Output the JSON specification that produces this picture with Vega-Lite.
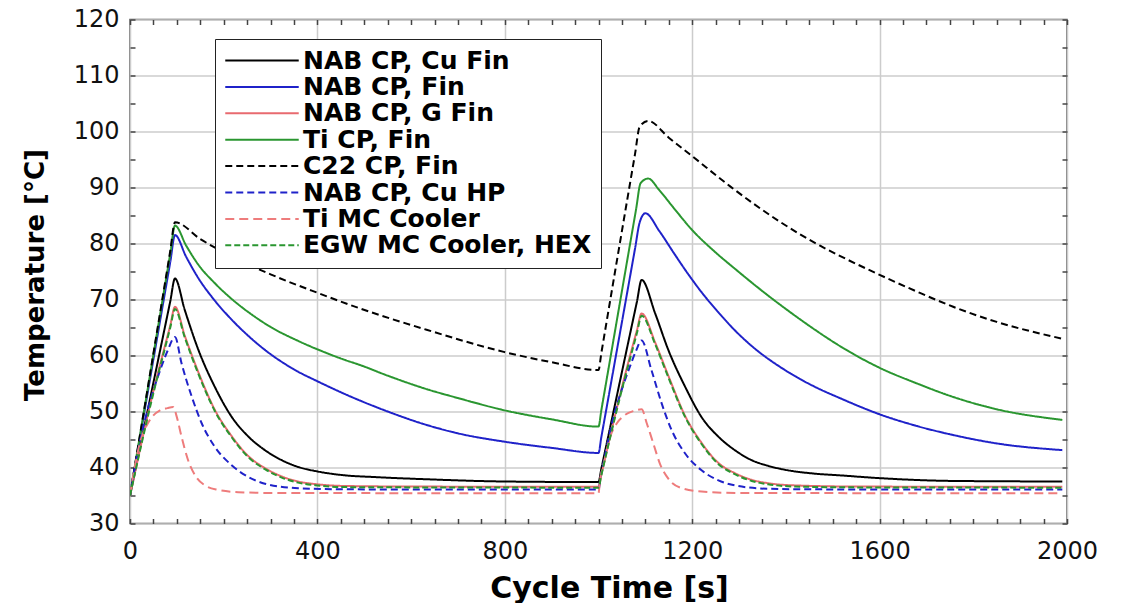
{
"$schema": "https://vega.github.io/schema/vega-lite/v6.json",
"width": 937, "height": 504,
"autosize": "none",
"padding": {"left": 130, "top": 19.5, "right": 56, "bottom": 79.5},
"background": "white",
"config": {"view": {"stroke": "#555555", "strokeWidth": 1.5}, "font": "DejaVu Sans"},
"data": {"values": [
{"s":"NAB CP, Cu Fin","t":0,"T":35},{"s":"NAB CP, Cu Fin","t":86,"T":69.7},{"s":"NAB CP, Cu Fin","t":96,"T":73.75},{"s":"NAB CP, Cu Fin","t":117,"T":68.1},{"s":"NAB CP, Cu Fin","t":146,"T":61},{"s":"NAB CP, Cu Fin","t":181,"T":54.4},{"s":"NAB CP, Cu Fin","t":217,"T":49.05},{"s":"NAB CP, Cu Fin","t":253,"T":45.5},{"s":"NAB CP, Cu Fin","t":288,"T":43.1},{"s":"NAB CP, Cu Fin","t":324,"T":41.3},{"s":"NAB CP, Cu Fin","t":359,"T":40.1},{"s":"NAB CP, Cu Fin","t":400,"T":39.3},{"s":"NAB CP, Cu Fin","t":459,"T":38.6},{"s":"NAB CP, Cu Fin","t":520,"T":38.3},{"s":"NAB CP, Cu Fin","t":633,"T":37.9},{"s":"NAB CP, Cu Fin","t":800,"T":37.5},{"s":"NAB CP, Cu Fin","t":1000,"T":37.4},{"s":"NAB CP, Cu Fin","t":1006,"T":39.75},{"s":"NAB CP, Cu Fin","t":1082,"T":69.6},{"s":"NAB CP, Cu Fin","t":1092,"T":73.5},{"s":"NAB CP, Cu Fin","t":1121,"T":67.5},{"s":"NAB CP, Cu Fin","t":1149,"T":61},{"s":"NAB CP, Cu Fin","t":1185,"T":54.4},{"s":"NAB CP, Cu Fin","t":1220,"T":49},{"s":"NAB CP, Cu Fin","t":1256,"T":45.5},{"s":"NAB CP, Cu Fin","t":1291,"T":43.1},{"s":"NAB CP, Cu Fin","t":1327,"T":41.3},{"s":"NAB CP, Cu Fin","t":1362,"T":40.3},{"s":"NAB CP, Cu Fin","t":1398,"T":39.6},{"s":"NAB CP, Cu Fin","t":1462,"T":38.9},{"s":"NAB CP, Cu Fin","t":1515,"T":38.6},{"s":"NAB CP, Cu Fin","t":1600,"T":38.1},{"s":"NAB CP, Cu Fin","t":1757,"T":37.6},{"s":"NAB CP, Cu Fin","t":1990,"T":37.5},
{"s":"NAB CP, Fin","t":0,"T":35},{"s":"NAB CP, Fin","t":86,"T":76.7},{"s":"NAB CP, Fin","t":96,"T":81.5},{"s":"NAB CP, Fin","t":120,"T":77.6},{"s":"NAB CP, Fin","t":146,"T":73.8},{"s":"NAB CP, Fin","t":180,"T":69.9},{"s":"NAB CP, Fin","t":217,"T":66.4},{"s":"NAB CP, Fin","t":250,"T":63.7},{"s":"NAB CP, Fin","t":288,"T":61},{"s":"NAB CP, Fin","t":359,"T":57.1},{"s":"NAB CP, Fin","t":400,"T":55.4},{"s":"NAB CP, Fin","t":459,"T":53.1},{"s":"NAB CP, Fin","t":550,"T":50},{"s":"NAB CP, Fin","t":633,"T":47.6},{"s":"NAB CP, Fin","t":700,"T":46.1},{"s":"NAB CP, Fin","t":800,"T":44.6},{"s":"NAB CP, Fin","t":900,"T":43.5},{"s":"NAB CP, Fin","t":1000,"T":42.6},{"s":"NAB CP, Fin","t":1006,"T":45.4},{"s":"NAB CP, Fin","t":1078,"T":79.1},{"s":"NAB CP, Fin","t":1088,"T":83.8},{"s":"NAB CP, Fin","t":1100,"T":85.4},{"s":"NAB CP, Fin","t":1130,"T":82.2},{"s":"NAB CP, Fin","t":1160,"T":78.4},{"s":"NAB CP, Fin","t":1185,"T":75.3},{"s":"NAB CP, Fin","t":1220,"T":71.3},{"s":"NAB CP, Fin","t":1256,"T":67.7},{"s":"NAB CP, Fin","t":1291,"T":64.5},{"s":"NAB CP, Fin","t":1327,"T":61.7},{"s":"NAB CP, Fin","t":1398,"T":57.4},{"s":"NAB CP, Fin","t":1462,"T":54.4},{"s":"NAB CP, Fin","t":1515,"T":52.4},{"s":"NAB CP, Fin","t":1600,"T":49.5},{"s":"NAB CP, Fin","t":1680,"T":47.4},{"s":"NAB CP, Fin","t":1757,"T":45.8},{"s":"NAB CP, Fin","t":1850,"T":44.3},{"s":"NAB CP, Fin","t":1990,"T":43.1},
{"s":"NAB CP, G Fin","t":0,"T":35},{"s":"NAB CP, G Fin","t":48,"T":53},{"s":"NAB CP, G Fin","t":86,"T":65.4},{"s":"NAB CP, G Fin","t":96,"T":68.7},{"s":"NAB CP, G Fin","t":117,"T":63.5},{"s":"NAB CP, G Fin","t":146,"T":57},{"s":"NAB CP, G Fin","t":181,"T":50.3},{"s":"NAB CP, G Fin","t":217,"T":45.6},{"s":"NAB CP, G Fin","t":253,"T":42},{"s":"NAB CP, G Fin","t":288,"T":39.9},{"s":"NAB CP, G Fin","t":324,"T":38.4},{"s":"NAB CP, G Fin","t":359,"T":37.5},{"s":"NAB CP, G Fin","t":400,"T":37},{"s":"NAB CP, G Fin","t":460,"T":36.7},{"s":"NAB CP, G Fin","t":600,"T":36.6},{"s":"NAB CP, G Fin","t":1000,"T":36.55},{"s":"NAB CP, G Fin","t":1006,"T":38.7},{"s":"NAB CP, G Fin","t":1046,"T":53},{"s":"NAB CP, G Fin","t":1082,"T":64.5},{"s":"NAB CP, G Fin","t":1092,"T":67.5},{"s":"NAB CP, G Fin","t":1121,"T":62.3},{"s":"NAB CP, G Fin","t":1149,"T":56.4},{"s":"NAB CP, G Fin","t":1185,"T":49.2},{"s":"NAB CP, G Fin","t":1220,"T":44.4},{"s":"NAB CP, G Fin","t":1256,"T":40.8},{"s":"NAB CP, G Fin","t":1291,"T":39},{"s":"NAB CP, G Fin","t":1327,"T":37.8},{"s":"NAB CP, G Fin","t":1362,"T":37.2},{"s":"NAB CP, G Fin","t":1420,"T":36.8},{"s":"NAB CP, G Fin","t":1550,"T":36.6},{"s":"NAB CP, G Fin","t":1990,"T":36.55},
{"s":"Ti CP, Fin","t":0,"T":35},{"s":"Ti CP, Fin","t":86,"T":78.2},{"s":"Ti CP, Fin","t":96,"T":83.2},{"s":"Ti CP, Fin","t":120,"T":79.6},{"s":"Ti CP, Fin","t":146,"T":76.2},{"s":"Ti CP, Fin","t":180,"T":73},{"s":"Ti CP, Fin","t":217,"T":70.1},{"s":"Ti CP, Fin","t":260,"T":67.3},{"s":"Ti CP, Fin","t":300,"T":65.1},{"s":"Ti CP, Fin","t":359,"T":62.6},{"s":"Ti CP, Fin","t":400,"T":61.1},{"s":"Ti CP, Fin","t":459,"T":59.2},{"s":"Ti CP, Fin","t":491,"T":58.3},{"s":"Ti CP, Fin","t":550,"T":56.4},{"s":"Ti CP, Fin","t":633,"T":54},{"s":"Ti CP, Fin","t":700,"T":52.4},{"s":"Ti CP, Fin","t":800,"T":50.2},{"s":"Ti CP, Fin","t":900,"T":48.6},{"s":"Ti CP, Fin","t":1000,"T":47.3},{"s":"Ti CP, Fin","t":1006,"T":50.2},{"s":"Ti CP, Fin","t":1080,"T":86},{"s":"Ti CP, Fin","t":1090,"T":90.8},{"s":"Ti CP, Fin","t":1106,"T":91.6},{"s":"Ti CP, Fin","t":1130,"T":89.5},{"s":"Ti CP, Fin","t":1160,"T":86.4},{"s":"Ti CP, Fin","t":1200,"T":82.4},{"s":"Ti CP, Fin","t":1250,"T":78.4},{"s":"Ti CP, Fin","t":1291,"T":75.5},{"s":"Ti CP, Fin","t":1362,"T":70.7},{"s":"Ti CP, Fin","t":1400,"T":68.3},{"s":"Ti CP, Fin","t":1462,"T":64.6},{"s":"Ti CP, Fin","t":1515,"T":61.7},{"s":"Ti CP, Fin","t":1600,"T":57.8},{"s":"Ti CP, Fin","t":1680,"T":55},{"s":"Ti CP, Fin","t":1757,"T":52.6},{"s":"Ti CP, Fin","t":1850,"T":50.4},{"s":"Ti CP, Fin","t":1990,"T":48.5},
{"s":"C22 CP, Fin","t":0,"T":35},{"s":"C22 CP, Fin","t":86,"T":78.7},{"s":"C22 CP, Fin","t":96,"T":83.8},{"s":"C22 CP, Fin","t":150,"T":80.8},{"s":"C22 CP, Fin","t":200,"T":78.4},{"s":"C22 CP, Fin","t":300,"T":74.5},{"s":"C22 CP, Fin","t":400,"T":71.2},{"s":"C22 CP, Fin","t":491,"T":68.4},{"s":"C22 CP, Fin","t":633,"T":64.6},{"s":"C22 CP, Fin","t":800,"T":60.6},{"s":"C22 CP, Fin","t":900,"T":58.8},{"s":"C22 CP, Fin","t":1000,"T":57.4},{"s":"C22 CP, Fin","t":1006,"T":60.4},{"s":"C22 CP, Fin","t":1078,"T":96},{"s":"C22 CP, Fin","t":1088,"T":100.9},{"s":"C22 CP, Fin","t":1106,"T":101.9},{"s":"C22 CP, Fin","t":1150,"T":98.9},{"s":"C22 CP, Fin","t":1200,"T":95.6},{"s":"C22 CP, Fin","t":1281,"T":90.2},{"s":"C22 CP, Fin","t":1387,"T":83.9},{"s":"C22 CP, Fin","t":1473,"T":79.6},{"s":"C22 CP, Fin","t":1515,"T":77.8},{"s":"C22 CP, Fin","t":1600,"T":74.4},{"s":"C22 CP, Fin","t":1680,"T":71.4},{"s":"C22 CP, Fin","t":1757,"T":68.7},{"s":"C22 CP, Fin","t":1850,"T":66},{"s":"C22 CP, Fin","t":1990,"T":63},
{"s":"NAB CP, Cu HP","t":0,"T":35},{"s":"NAB CP, Cu HP","t":16,"T":42.5},{"s":"NAB CP, Cu HP","t":32,"T":48.5},{"s":"NAB CP, Cu HP","t":50,"T":53.8},{"s":"NAB CP, Cu HP","t":67,"T":58},{"s":"NAB CP, Cu HP","t":80,"T":60.8},{"s":"NAB CP, Cu HP","t":96,"T":63.3},{"s":"NAB CP, Cu HP","t":110,"T":58.6},{"s":"NAB CP, Cu HP","t":132,"T":52.6},{"s":"NAB CP, Cu HP","t":153,"T":47.9},{"s":"NAB CP, Cu HP","t":181,"T":43.7},{"s":"NAB CP, Cu HP","t":217,"T":40.4},{"s":"NAB CP, Cu HP","t":253,"T":38.3},{"s":"NAB CP, Cu HP","t":288,"T":37.1},{"s":"NAB CP, Cu HP","t":359,"T":36.3},{"s":"NAB CP, Cu HP","t":460,"T":36.1},{"s":"NAB CP, Cu HP","t":1000,"T":36.05},{"s":"NAB CP, Cu HP","t":1004,"T":38},{"s":"NAB CP, Cu HP","t":1016,"T":43},{"s":"NAB CP, Cu HP","t":1032,"T":49},{"s":"NAB CP, Cu HP","t":1050,"T":54},{"s":"NAB CP, Cu HP","t":1067,"T":58},{"s":"NAB CP, Cu HP","t":1080,"T":60.8},{"s":"NAB CP, Cu HP","t":1092,"T":62.7},{"s":"NAB CP, Cu HP","t":1113,"T":57.4},{"s":"NAB CP, Cu HP","t":1135,"T":51.4},{"s":"NAB CP, Cu HP","t":1156,"T":46.7},{"s":"NAB CP, Cu HP","t":1185,"T":42.5},{"s":"NAB CP, Cu HP","t":1220,"T":39.5},{"s":"NAB CP, Cu HP","t":1256,"T":37.7},{"s":"NAB CP, Cu HP","t":1291,"T":36.8},{"s":"NAB CP, Cu HP","t":1362,"T":36.2},{"s":"NAB CP, Cu HP","t":1450,"T":36.1},{"s":"NAB CP, Cu HP","t":1990,"T":36.05},
{"s":"Ti MC Cooler","t":0,"T":35},{"s":"Ti MC Cooler","t":10,"T":40},{"s":"Ti MC Cooler","t":21,"T":44.3},{"s":"Ti MC Cooler","t":35,"T":47.4},{"s":"Ti MC Cooler","t":50,"T":49.3},{"s":"Ti MC Cooler","t":64,"T":50.2},{"s":"Ti MC Cooler","t":80,"T":50.6},{"s":"Ti MC Cooler","t":92,"T":50.8},{"s":"Ti MC Cooler","t":100,"T":49},{"s":"Ti MC Cooler","t":110,"T":45.5},{"s":"Ti MC Cooler","t":124,"T":41.3},{"s":"Ti MC Cooler","t":139,"T":38.6},{"s":"Ti MC Cooler","t":160,"T":36.8},{"s":"Ti MC Cooler","t":188,"T":36},{"s":"Ti MC Cooler","t":231,"T":35.6},{"s":"Ti MC Cooler","t":300,"T":35.45},{"s":"Ti MC Cooler","t":1000,"T":35.4},{"s":"Ti MC Cooler","t":1003,"T":37.5},{"s":"Ti MC Cooler","t":1012,"T":41},{"s":"Ti MC Cooler","t":1025,"T":45.5},{"s":"Ti MC Cooler","t":1040,"T":48},{"s":"Ti MC Cooler","t":1055,"T":49.3},{"s":"Ti MC Cooler","t":1075,"T":50.1},{"s":"Ti MC Cooler","t":1092,"T":50.4},{"s":"Ti MC Cooler","t":1103,"T":47.9},{"s":"Ti MC Cooler","t":1117,"T":44.3},{"s":"Ti MC Cooler","t":1131,"T":40.7},{"s":"Ti MC Cooler","t":1149,"T":38},{"s":"Ti MC Cooler","t":1178,"T":36.3},{"s":"Ti MC Cooler","t":1220,"T":35.7},{"s":"Ti MC Cooler","t":1300,"T":35.45},{"s":"Ti MC Cooler","t":1990,"T":35.4},
{"s":"EGW MC Cooler, HEX","t":0,"T":35},{"s":"EGW MC Cooler, HEX","t":48,"T":52.6},{"s":"EGW MC Cooler, HEX","t":86,"T":65},{"s":"EGW MC Cooler, HEX","t":96,"T":68.3},{"s":"EGW MC Cooler, HEX","t":117,"T":63.2},{"s":"EGW MC Cooler, HEX","t":146,"T":56.7},{"s":"EGW MC Cooler, HEX","t":181,"T":50.1},{"s":"EGW MC Cooler, HEX","t":217,"T":45.4},{"s":"EGW MC Cooler, HEX","t":253,"T":41.8},{"s":"EGW MC Cooler, HEX","t":288,"T":39.7},{"s":"EGW MC Cooler, HEX","t":324,"T":38.2},{"s":"EGW MC Cooler, HEX","t":359,"T":37.3},{"s":"EGW MC Cooler, HEX","t":400,"T":36.8},{"s":"EGW MC Cooler, HEX","t":460,"T":36.5},{"s":"EGW MC Cooler, HEX","t":600,"T":36.45},{"s":"EGW MC Cooler, HEX","t":1000,"T":36.4},{"s":"EGW MC Cooler, HEX","t":1006,"T":38.6},{"s":"EGW MC Cooler, HEX","t":1046,"T":52.6},{"s":"EGW MC Cooler, HEX","t":1082,"T":64},{"s":"EGW MC Cooler, HEX","t":1092,"T":67.1},{"s":"EGW MC Cooler, HEX","t":1121,"T":62},{"s":"EGW MC Cooler, HEX","t":1149,"T":56.1},{"s":"EGW MC Cooler, HEX","t":1185,"T":49},{"s":"EGW MC Cooler, HEX","t":1220,"T":44.2},{"s":"EGW MC Cooler, HEX","t":1256,"T":40.6},{"s":"EGW MC Cooler, HEX","t":1291,"T":38.8},{"s":"EGW MC Cooler, HEX","t":1327,"T":37.6},{"s":"EGW MC Cooler, HEX","t":1362,"T":37},{"s":"EGW MC Cooler, HEX","t":1420,"T":36.6},{"s":"EGW MC Cooler, HEX","t":1550,"T":36.45},{"s":"EGW MC Cooler, HEX","t":1990,"T":36.4}
]},
"layer": [
{
"mark": {"type": "line", "strokeWidth": 2, "clip": true, "interpolate": "monotone"},
"encoding": {
"x": {"field": "t", "type": "quantitative", "scale": {"domain": [0, 2000], "nice": false, "zero": false},
 "axis": {"orient": "bottom", "offset": -5, "values": [0,50,100,150,200,250,300,350,400,450,500,550,600,650,700,750,800,850,900,950,1000,1050,1100,1150,1200,1250,1300,1350,1400,1450,1500,1550,1600,1650,1700,1750,1800,1850,1900,1950,2000],
  "format": "d", "labelExpr": "datum.value % 400 === 0 ? datum.label : ''",
  "labelFont": "DejaVu Sans", "labelFontSize": 24, "labelColor": "#111111", "labelBaseline": "alphabetic", "labelPadding": 34.5, "labelFlush": false, "labelOverlap": false,
  "ticks": true, "tickSize": 5, "tickColor": "#444444", "tickWidth": 1.5,
  "domain": false,
  "grid": true, "gridColor": "#cccccc", "gridWidth": 1.5,
  "gridOpacity": {"condition": {"test": "datum.value % 400 === 0", "value": 1}, "value": 0},
  "title": "Cycle Time [s]", "titleFont": "DejaVu Sans", "titleFontSize": 30, "titleFontWeight": "bold", "titleColor": "#000000",
  "titleX": 479, "titleY": 78.5, "titleBaseline": "alphabetic", "titleAlign": "center", "titleAngle": 0}},
"y": {"field": "T", "type": "quantitative", "scale": {"domain": [30, 120], "nice": false, "zero": false},
 "axis": {"orient": "left", "offset": -5, "values": [30,35,40,45,50,55,60,65,70,75,80,85,90,95,100,105,110,115,120],
  "labelExpr": "datum.value % 10 === 0 ? datum.label : ''",
  "labelFont": "DejaVu Sans", "labelFontSize": 24, "labelColor": "#111111", "labelPadding": 11, "labelOverlap": false, "labelFlush": false,
  "ticks": true, "tickSize": 5, "tickColor": "#444444", "tickWidth": 1.5,
  "domain": false,
  "grid": true, "gridColor": "#cccccc", "gridWidth": 1.5,
  "gridOpacity": {"condition": {"test": "datum.value % 10 === 0", "value": 1}, "value": 0},
  "title": "Temperature [°C]", "titleFont": "DejaVu Sans", "titleFontSize": 26, "titleFontWeight": "bold", "titleColor": "#000000",
  "titleX": -100, "titleY": 255, "titleAngle": 270, "titleBaseline": "middle", "titleAlign": "center"}},
"color": {"field": "s", "type": "nominal",
 "scale": {"domain": ["NAB CP, Cu Fin","NAB CP, Fin","NAB CP, G Fin","Ti CP, Fin","C22 CP, Fin","NAB CP, Cu HP","Ti MC Cooler","EGW MC Cooler, HEX"],
  "range": ["#000000","#1f22c9","#e86a6f","#2a9630","#000000","#1f22c9","#ee7c7c","#2a9630"]},
 "legend": {"orient": "none", "legendX": 85, "legendY": 19.5, "title": null,
  "symbolType": "stroke", "symbolSize": 5400, "symbolStrokeWidth": 2,
  "clipHeight": 25, "rowPadding": 0.4, "padding": 9,
  "strokeColor": "#222222", "fillColor": "#ffffff",
  "labelFont": "DejaVu Sans", "labelFontSize": 25, "labelFontWeight": "bold", "labelColor": "#000000", "labelOffset": 3, "labelLimit": 400}},
"strokeDash": {"field": "s", "type": "nominal",
 "scale": {"domain": ["NAB CP, Cu Fin","NAB CP, Fin","NAB CP, G Fin","Ti CP, Fin","C22 CP, Fin","NAB CP, Cu HP","Ti MC Cooler","EGW MC Cooler, HEX"],
  "range": [[1,0],[1,0],[1,0],[1,0],[7,4],[7,4],[9,5],[6,3]]},
 "legend": {"orient": "none", "legendX": 85, "legendY": 19.5, "title": null,
  "symbolType": "stroke", "symbolSize": 5400, "symbolStrokeWidth": 2,
  "clipHeight": 25, "rowPadding": 0.4, "padding": 9,
  "strokeColor": "#222222", "fillColor": "#ffffff",
  "labelFont": "DejaVu Sans", "labelFontSize": 25, "labelFontWeight": "bold", "labelColor": "#000000", "labelOffset": 3, "labelLimit": 400}},
"strokeWidth": {"condition": {"test": "datum.s === 'Ti MC Cooler'", "value": 3}, "value": 2}
}
},
{
"mark": {"type": "point", "opacity": 0, "size": 1},
"encoding": {
"x": {"field": "t", "type": "quantitative",
 "axis": {"orient": "top", "offset": -5, "values": [0,50,100,150,200,250,300,350,400,450,500,550,600,650,700,750,800,850,900,950,1000,1050,1100,1150,1200,1250,1300,1350,1400,1450,1500,1550,1600,1650,1700,1750,1800,1850,1900,1950,2000],
  "labels": false, "ticks": true, "tickSize": 5, "tickColor": "#444444", "tickWidth": 1.5, "domain": false, "grid": false, "title": null}},
"y": {"field": "T", "type": "quantitative",
 "axis": {"orient": "right", "offset": -5, "values": [30,35,40,45,50,55,60,65,70,75,80,85,90,95,100,105,110,115,120],
  "labels": false, "ticks": true, "tickSize": 5, "tickColor": "#444444", "tickWidth": 1.5, "domain": false, "grid": false, "title": null}}
}
}
],
"resolve": {"axis": {"x": "independent", "y": "independent"}}
}
